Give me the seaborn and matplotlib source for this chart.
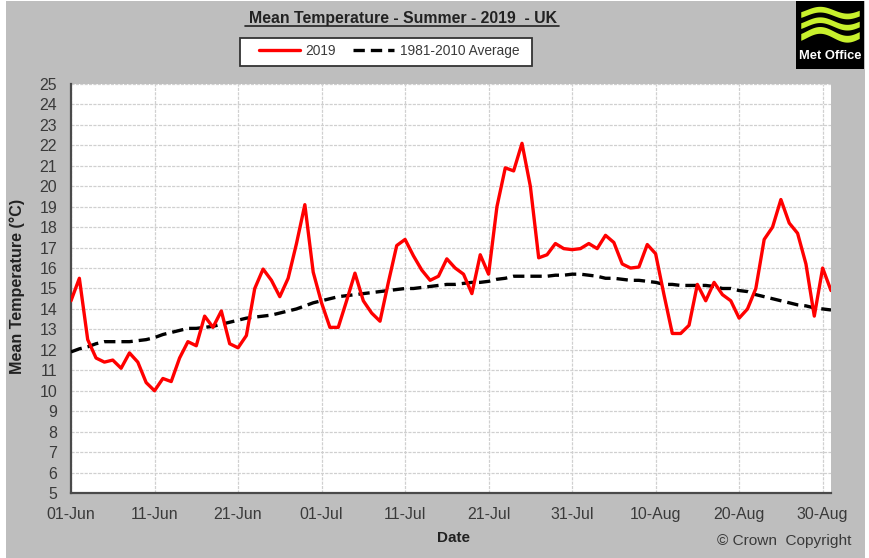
import numpy as np
import pandas as pd
import matplotlib
matplotlib.use("Agg")
import matplotlib.pyplot as plt
from matplotlib.patches import Rectangle
from matplotlib.lines import Line2D
import seaborn as sns

sns.set_theme(style="white")
plt.rcParams['font.family'] = ['Liberation Sans', 'DejaVu Sans']

TITLE = "Mean Temperature - Summer - 2019  - UK"
SERIES_2019 = "2019"
SERIES_AVG = "1981-2010 Average"
temp_2019 = [14.4, 15.5, 12.5, 11.6, 11.4, 11.5, 11.1, 11.85, 11.4, 10.4,
             10.0, 10.6, 10.45, 11.6, 12.4, 12.2, 13.65, 13.1, 13.9, 12.3,
             12.1, 12.7, 15.0, 15.95, 15.4, 14.6, 15.5, 17.2, 19.1, 15.8,
             14.3, 13.1, 13.1, 14.4, 15.75, 14.4, 13.8, 13.4, 15.3, 17.1,
             17.4, 16.6, 15.9, 15.4, 15.6, 16.45, 16.0, 15.7, 14.75, 16.65,
             15.7, 19.0, 20.9, 20.75, 22.1, 20.0, 16.5, 16.65, 17.2, 16.95, 16.9,
             16.95, 17.2, 16.95, 17.6, 17.25, 16.2, 16.0, 16.05, 17.15, 16.7,
             14.7, 12.8, 12.8, 13.2, 15.2, 14.4, 15.3, 14.7, 14.4, 13.55,
             14.0, 15.0, 17.4, 18.0, 19.35, 18.2, 17.7, 16.2, 13.65, 16.0, 14.9]
temp_avg = [11.9, 12.05, 12.15, 12.3, 12.4, 12.4, 12.4, 12.4, 12.45, 12.5,
            12.6, 12.75, 12.85, 12.95, 13.05, 13.05, 13.1, 13.15, 13.25, 13.35,
            13.45, 13.55, 13.6, 13.65, 13.7, 13.8, 13.9, 14.0, 14.15, 14.3,
            14.4, 14.5, 14.6, 14.65, 14.7, 14.75, 14.8, 14.85, 14.9, 14.95,
            15.0, 15.0, 15.05, 15.1, 15.15, 15.2, 15.2, 15.25, 15.3, 15.3,
            15.35, 15.45, 15.5, 15.6, 15.6, 15.6, 15.6, 15.6, 15.65, 15.65, 15.7,
            15.7, 15.65, 15.6, 15.5, 15.5, 15.45, 15.4, 15.4, 15.35, 15.3,
            15.2, 15.2, 15.15, 15.15, 15.15, 15.15, 15.1, 15.0, 15.0, 14.9,
            14.85, 14.7, 14.6, 14.5, 14.4, 14.3, 14.2, 14.15, 14.05, 14.0, 13.95]
tick_dates = ["2019-06-01", "2019-06-11", "2019-06-21", "2019-07-01", "2019-07-11",
              "2019-07-21", "2019-07-31", "2019-08-10", "2019-08-20", "2019-08-30"]
tick_labels = ["01-Jun", "11-Jun", "21-Jun", "01-Jul", "11-Jul",
               "21-Jul", "31-Jul", "10-Aug", "20-Aug", "30-Aug"]
y_ticks = list(range(5, 26))

W, H = 870, 558
GREY = "#BEBEBE"
TXT = "#3A3A3A"
DASH = (0, (3.4, 1.8))

dates = pd.date_range("2019-06-01", periods=len(temp_2019))
df = pd.DataFrame({"Date": dates, SERIES_2019: temp_2019, SERIES_AVG: temp_avg})

fig = plt.figure(figsize=(W / 100, H / 100), dpi=100, facecolor="white")
fig.patches.append(Rectangle((6 / W, 0), 859 / W, 1 - 1 / H, transform=fig.transFigure,
                             facecolor=GREY, edgecolor="none", zorder=-10))
ax = fig.add_axes([71 / W, 1 - 493 / H, 760 / W, 409 / H], facecolor="white")

sns.lineplot(data=df, x="Date", y=SERIES_AVG, ax=ax, color="black", linewidth=2.4,
             linestyle=DASH, zorder=3)
sns.lineplot(data=df, x="Date", y=SERIES_2019, ax=ax, color="#FF0000", linewidth=2.4, zorder=4)

ax.set_xlim(dates[0], dates[-1])
ax.set_ylim(5, 25)
ax.set_yticks(y_ticks)
ax.set_xticks(pd.to_datetime(tick_dates))
ax.set_xticklabels(tick_labels)
ax.xaxis.set_minor_locator(matplotlib.ticker.NullLocator())
ax.tick_params(axis="both", length=0, labelsize=11.4, labelcolor=TXT)
ax.tick_params(axis="x", pad=10)
ax.tick_params(axis="y", pad=10)
ax.grid(True, color="#D0D0D0", linewidth=0.9, linestyle=(0, (2.5, 1)))
ax.set_axisbelow(True)
for s in ("top", "right"):
    ax.spines[s].set_visible(False)
for s in ("left", "bottom"):
    ax.spines[s].set_color("#4A4A4A")
    ax.spines[s].set_linewidth(1.6)

ax.set_xlabel("")
ax.set_ylabel("")
fig.text(454 / W, 1 - 538 / H, "Date", ha="center", va="center", fontsize=11,
         fontweight="bold", color="#222222")
fig.text(17 / W, 1 - 286 / H, "Mean Temperature (°C)", rotation=90, ha="center", va="center",
         fontsize=11.6, fontweight="bold", color="#222222")
fig.text(403 / W, 1 - 19 / H, TITLE, ha="center", va="center", fontsize=11.4,
         fontweight="bold", color="#222222")
fig.add_artist(Line2D([245 / W, 559 / W], [1 - 26 / H, 1 - 26 / H], color="#222222", lw=1.2))
fig.text(851 / W, 1 - 541 / H, "© Crown  Copyright", ha="right", va="center", fontsize=11.1,
         color=TXT)

# legend box, then the legend inside it
fig.patches.append(Rectangle((240 / W, 1 - 66 / H), 292 / W, 28 / H, transform=fig.transFigure,
                             facecolor="white", edgecolor="#333333", linewidth=1.3, zorder=1))
handles = [Line2D([], [], color="#FF0000", lw=2.4),
           Line2D([], [], color="black", lw=2.4, linestyle=DASH)]
leg = fig.legend(handles, [SERIES_2019, SERIES_AVG], ncol=2, loc="center",
                 bbox_to_anchor=(389 / W, 1 - 51 / H), fontsize=9.9, frameon=False, labelcolor=TXT,
                 handlelength=3.0, handletextpad=0.42, columnspacing=1.2, borderpad=0,
                 borderaxespad=0)
leg.set_zorder(5)

# Met Office logo
lg = fig.add_axes([796 / W, 1 - 69 / H, 68 / W, 68 / H], facecolor="black")
lg.set_xlim(0, 1)
lg.set_ylim(0, 1)
lg.set_xticks([])
lg.set_yticks([])
for s in lg.spines.values():
    s.set_visible(False)
xx = np.linspace(0.07, 0.93, 80)
for base, amp, thick in [(0.83, 0.05, 0.042), (0.67, 0.055, 0.042), (0.51, 0.065, 0.05)]:
    wave = base + amp * np.sin(2 * np.pi * (xx - 0.15) / 0.8)
    lg.fill_between(xx, wave - thick, wave + thick, color="#C8F02D", linewidth=0)
lg.text(0.5, 0.185, "Met Office", color="white", fontsize=9.3, fontweight="bold",
        ha="center", va="center")

fig.savefig("out.png", dpi=100, facecolor=fig.get_facecolor())
